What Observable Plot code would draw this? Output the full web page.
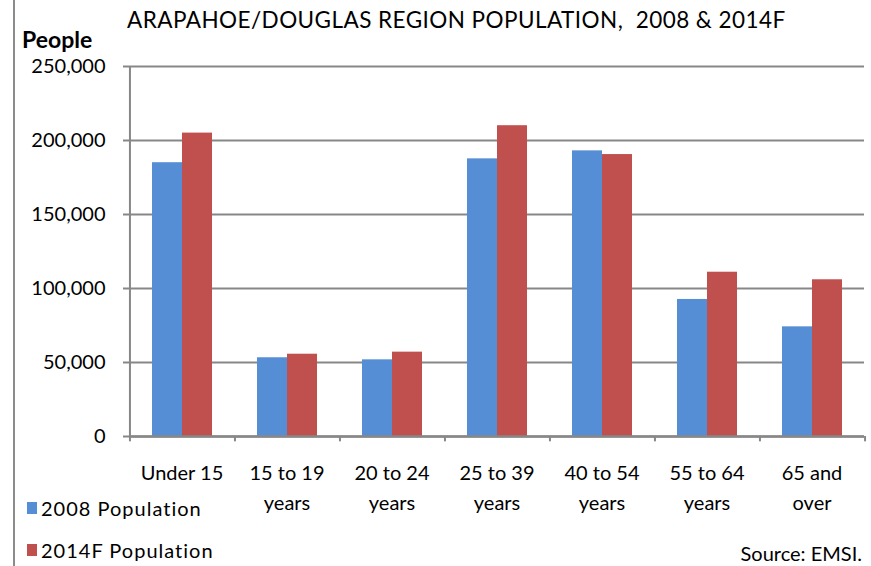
<!DOCTYPE html>
<html>
<head>
<meta charset="utf-8">
<script src="https://cdn.jsdelivr.net/npm/d3@7"></script>
<script src="https://cdn.jsdelivr.net/npm/@observablehq/plot@0.6"></script>
<style>
  html, body { margin: 0; padding: 0; background: #fff; }
  #wrap { position: relative; width: 871px; height: 566px; overflow: hidden; font-family: Lato, "Noto Sans", sans-serif; color: #000; }
  #chart { position: absolute; left: 0; top: 0; }
  .border { position: absolute; left: 13px; top: 0; width: 2px; height: 566px; background: #8c8c8c; }
  .title { position: absolute; left: 127px; top: 7px; font-size: 22.5px; line-height: 26px; letter-spacing: 0.45px; white-space: nowrap; }
  .ylabel { position: absolute; left: 22px; top: 27px; font-size: 23px; line-height: 25px; font-weight: bold; }
  .legend { position: absolute; left: 27px; font-size: 20px; line-height: 24px; letter-spacing: 1px; white-space: nowrap; display: flex; align-items: center; }
  .legend span.sw { display: inline-block; width: 10px; height: 12px; margin-right: 4px; }
  .source { position: absolute; right: 9px; top: 541px; font-size: 20px; line-height: 24px; }
</style>
</head>
<body>
<div id="wrap">
  <div id="chart"></div>
  <div class="border"></div>
  <div class="title">ARAPAHOE/DOUGLAS REGION POPULATION,&nbsp; 2008 &amp; 2014F</div>
  <div class="ylabel">People</div>
  <div id="legend"></div>
  <div class="source">Source: EMSI.</div>
</div>
<script>
const categories = ["Under 15", "15 to 19 years", "20 to 24 years", "25 to 39 years", "40 to 54 years", "55 to 64 years", "65 and over"];
const categoryLabels = ["Under 15", "15 to 19\nyears", "20 to 24\nyears", "25 to 39\nyears", "40 to 54\nyears", "55 to 64\nyears", "65 and\nover"];
const seriesNames = ["2008 Population", "2014F Population"];
const pop2008 = [185000, 53200, 51800, 187600, 193000, 92600, 74100];
const pop2014 = [205000, 55600, 57000, 210000, 190500, 111000, 105900];
const yTicks = [0, 50000, 100000, 150000, 200000, 250000];
const colors = ["#558ED5", "#C0504D"];

const data = categories.flatMap((c, i) => [
  {cat: c, series: seriesNames[0], value: pop2008[i]},
  {cat: c, series: seriesNames[1], value: pop2014[i]}
]);

const gray = "#878787";
const chart = Plot.plot({
  width: 871,
  height: 566,
  marginTop: 66,
  marginLeft: 128,
  marginRight: 7,
  marginBottom: 130,
  style: {fontFamily: "Lato, 'Noto Sans', sans-serif", fontSize: "20px", color: "#000", background: "transparent"},
  fx: {domain: categories, padding: 0, label: null},
  x: {domain: seriesNames, paddingInner: 0, paddingOuter: 0.75, axis: null},
  y: {domain: [0, 250000], label: null},
  color: {domain: seriesNames, range: colors},
  marks: [
    Plot.gridY(yTicks, {stroke: gray, strokeOpacity: 1, strokeWidth: 2}),
    Plot.barY(data, {fx: "cat", x: "series", y: "value", fill: "series", inset: 0}),
    Plot.ruleY([0], {stroke: gray, strokeWidth: 2.5}),
    Plot.axisY(yTicks, {tickSize: 6, tickPadding: 18, tickFormat: d3.format(","), stroke: gray, strokeWidth: 2, fontSize: 20, label: null}),
    Plot.axisFx({anchor: "bottom", tickSize: 0, tickPadding: 22, tickFormat: (d) => categoryLabels[categories.indexOf(d)], lineHeight: 1.5, fontSize: 20, label: null}),
    // category boundary ticks below the axis
    Plot.ruleX([seriesNames[0]], {x: (d) => d, y1: 0, y2: -3600, dx: -37.55, stroke: gray, strokeWidth: 2}),
    Plot.ruleX([{cat: categories[categories.length - 1]}], {fx: "cat", x: () => seriesNames[1], y1: 0, y2: -3600, dx: 37.55, stroke: gray, strokeWidth: 2}),
    // vertical y axis line
    Plot.ruleX([{cat: categories[0]}], {fx: "cat", x: () => seriesNames[0], y1: 0, y2: 250000, dx: -37.55, stroke: gray, strokeWidth: 2})
  ]
});
document.getElementById("chart").appendChild(chart);

const legend = document.getElementById("legend");
const legendTops = [496, 538];
seriesNames.forEach((s, i) => {
  const item = document.createElement("div");
  item.className = "legend";
  item.style.top = legendTops[i] + "px";
  item.innerHTML = `<span class="sw" style="background:${colors[i]}"></span>${s}`;
  legend.appendChild(item);
});
</script>
</body>
</html>
